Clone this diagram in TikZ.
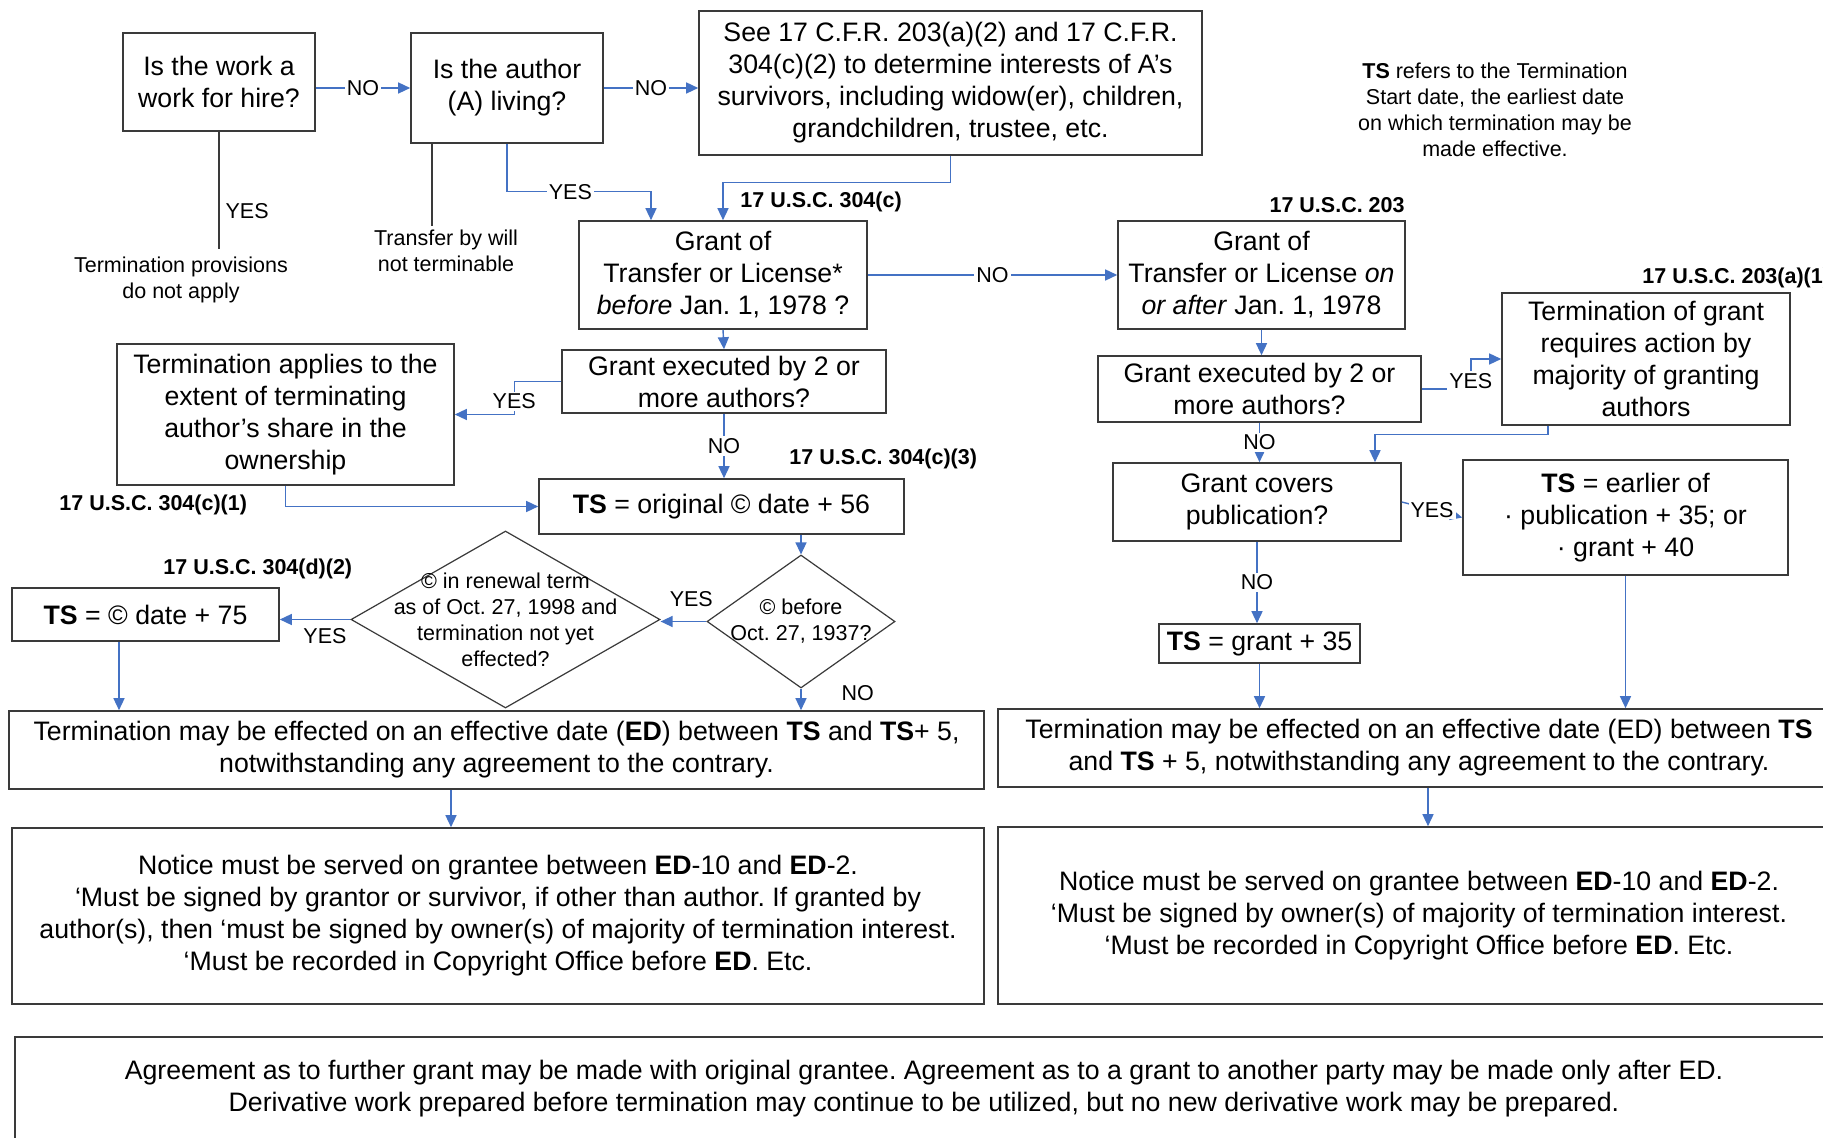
\documentclass[tikz,border=0pt]{standalone}
\usepackage{fontspec}
\setmainfont{Liberation Sans}
\usepackage{xcolor}
\usetikzlibrary{shapes.geometric, arrows.meta}
\definecolor{flowblue}{HTML}{4472C4}
\definecolor{boxline}{HTML}{3A3A3A}
\newcommand{\bxfont}{\fontsize{13.35}{16}\selectfont}
\newcommand{\lbfont}{\fontsize{10.75}{13}\selectfont}
\frenchspacing

\begin{document}
\begin{tikzpicture}[x=0.5pt, y=-0.5pt,
    box/.style={draw=boxline, line width=0.8pt, align=center, inner sep=0pt, font=\bxfont},
    dia/.style={diamond, draw=boxline, line width=0.6pt, align=center, inner xsep=-30pt, inner ysep=-15pt, font=\lbfont},
    conn/.style={draw=flowblue, line width=0.7pt},
    plain/.style={draw=boxline, line width=0.6pt},
    lbl/.style={fill=white, inner sep=1pt, font=\lbfont},
    cite/.style={font=\lbfont\bfseries, inner sep=0pt},
    note/.style={align=center, inner sep=0pt, font=\lbfont},
    >={Triangle[length=6pt, width=5.5pt]}]
    \clip (0, 0) rectangle (1823, 1138);
    \fill [white] (0, 0) rectangle (1823, 1138);

    % top row
    \node (hire) [box, minimum width=96pt, minimum height=49pt] at (219, 82) {Is the work a\\work for hire?};
    \node (living) [box, minimum width=96pt, minimum height=55pt] at (507, 88) {Is the author\\(A) living?};
    \node (cfr) [box, minimum width=251.5pt, minimum height=72pt] at (950.5, 83) {See 17 C.F.R. 203(a)(2) and 17 C.F.R.\\304(c)(2) to determine interests of A’s\\survivors, including widow(er), children,\\grandchildren, trustee, etc.};
    \node (tsnote) [note] at (1495, 110) {\textbf{TS} refers to the Termination\\Start date, the earliest date\\on which termination may be\\made effective.};
    \node (noapply) [note] at (181, 280) {Termination provisions\\do not apply};
    \node (will) [note] at (446, 251) {Transfer by will\\not terminable};

    % grants before / after 1978
    \node (before) [box, minimum width=144pt, minimum height=54pt] at (723, 275) {Grant of\\Transfer or License*\\\textit{before} Jan. 1, 1978 ?};
    \node (after) [box, minimum width=143.5pt, minimum height=54pt] at (1261.5, 275) {Grant of\\Transfer or License \textit{on}\\\textit{or after} Jan. 1, 1978};
    \node (execL) [box, minimum width=162pt, minimum height=31.5pt] at (724, 381.5) {Grant executed by 2 or\\more authors?};
    \node (execR) [box, minimum width=161.5pt, minimum height=33pt] at (1259.5, 389) {Grant executed by 2 or\\more authors?};
    \node (share) [box, minimum width=168.5pt, minimum height=70.5pt] at (285.5, 414.5) {Termination applies to the\\extent of terminating\\author’s share in the\\ownership};
    \node (majority) [box, minimum width=144pt, minimum height=66pt] at (1646, 359) {Termination of grant\\requires action by\\majority of granting\\authors};
    \node (covers) [box, minimum width=144pt, minimum height=39pt] at (1257, 502) {Grant covers\\publication?};
    \node (earlier) [box, minimum width=162.5pt, minimum height=57.5pt] at (1625.5, 517.5) {\textbf{TS} = earlier of\\· publication + 35; or\\· grant + 40};
    \node (ts56) [box, minimum width=182.5pt, minimum height=27.5pt] at (721.5, 506.5) {\textbf{TS} = original © date + 56};
    \node (grant35) [box, minimum width=100.5pt, minimum height=19.5pt] at (1259.5, 643.5) {\textbf{TS} = grant + 35};
    \node (before37) [dia, minimum width=94pt, minimum height=66.5pt] at (801, 621.5) {© before\\Oct. 27, 1937?};
    \node (renewal) [dia, minimum width=154.5pt, minimum height=88.5pt] at (505.5, 619.5) {© in renewal term\\as of Oct. 27, 1998 and\\termination not yet\\effected?};
    \node (ts75) [box, minimum width=133.5pt, minimum height=26.5pt] at (145.5, 614.5) {\textbf{TS} = © date + 75};

    % statute references
    \node (c304c) [cite, anchor=west] at (740, 202) {17 U.S.C. 304(c)};
    \node (c203) [cite, anchor=east] at (1405, 205) {17 U.S.C. 203};
    \node (c203a1) [cite, anchor=west] at (1642, 278) {17 U.S.C. 203(a)(1)};
    \node (c304c3) [cite, anchor=west] at (789, 459) {17 U.S.C. 304(c)(3)};
    \node (c304c1) [cite, anchor=west] at (59, 505) {17 U.S.C. 304(c)(1)};
    \node (c304d2) [cite, anchor=west] at (163, 569) {17 U.S.C. 304(d)(2)};

    % lower boxes
    \node (effL) [box, minimum width=487.5pt, minimum height=39pt] at (496.5, 750) {Termination may be effected on an effective date (\textbf{ED}) between \textbf{TS} and \textbf{TS}+ 5,\\notwithstanding any agreement to the contrary.};
    \node (effR) [box, minimum width=421pt, minimum height=39pt] at (1419, 748) {Termination may be effected on an effective date (ED) between \textbf{TS}\\and \textbf{TS} + 5, notwithstanding any agreement to the contrary.};
    \node (noticeL) [box, minimum width=486pt, minimum height=88pt] at (498, 916) {Notice must be served on grantee between \textbf{ED}-10 and \textbf{ED}-2.\\‘Must be signed by grantor or survivor, if other than author. If granted by\\author(s), then ‘must be signed by owner(s) of majority of termination interest.\\‘Must be recorded in Copyright Office before \textbf{ED}. Etc.};
    \node (noticeR) [box, minimum width=421pt, minimum height=88.5pt] at (1419, 915.5) {Notice must be served on grantee between \textbf{ED}-10 and \textbf{ED}-2.\\‘Must be signed by owner(s) of majority of termination interest.\\‘Must be recorded in Copyright Office before \textbf{ED}. Etc.};
    \node (agree) [box, minimum width=909pt, minimum height=52pt] at (924, 1089) {Agreement as to further grant may be made with original grantee. Agreement as to a grant to another party may be made only after ED.\\Derivative work prepared before termination may continue to be utilized, but no new derivative work may be prepared.};

    % connectors, top part
    \draw [conn, ->] (hire.east |- living.west) -- node [lbl] {NO} (living.west);
    \draw [conn, ->] (living.east) -- node [lbl] {NO} (living.east -| cfr.west);
    \draw [plain] (hire.south) -- node [pos=0.68, right=3pt, font=\lbfont, inner sep=0pt] {YES} ([yshift=4pt]hire.south |- noapply.north);
    \draw [plain] ([xshift=-37.5pt]living.south) -- ([xshift=-37.5pt, yshift=2pt]living.south |- will.north);
    \draw [conn, ->] (living.south) -- ++(0, 48) -| node [lbl, pos=0.22] {YES} ([xshift=-36pt]before.north);
    \draw [conn, ->] (cfr.south) -- ++(0, 27) -| (before.north);
    \draw [conn, ->] (before.east) -- node [lbl] {NO} (after.west);

    % left branch
    \draw [conn, ->] (before.south) -- (execL.north);
    \draw [conn, ->] (execL.west) -- ++(-47, 0) |- node [lbl, pos=0.3] {YES} (share.east);
    \draw [conn, ->] (execL.south) -- node [lbl] {NO} (execL.south |- ts56.north);
    \draw [conn, ->] (share.south) |- (ts56.west);
    \draw [conn, ->] (before37.north |- ts56.south) -- (before37.north);
    \draw [conn, ->] (before37.west) -- node [pos=0.33, above=7pt, font=\lbfont, inner sep=0pt] {YES} (before37.west -| renewal.east);
    \draw [conn, ->] (renewal.west) -- node [pos=0.36, below=4pt, font=\lbfont, inner sep=0pt] {YES} (renewal.west -| ts75.east);
    \draw [conn, ->] ([xshift=-13.25pt]ts75.south) -- ([xshift=-13.25pt]ts75.south |- effL.north);
    \draw [conn, ->] (before37.south) -- node [pos=0.2, right=20pt, font=\lbfont, inner sep=0pt] {NO} (before37.south |- effL.north);
    \draw [conn, ->] ([xshift=-22.75pt]effL.south) -- ([xshift=-22.75pt]effL.south |- noticeL.north);

    % right branch
    \draw [conn, ->] (after.south) -- (after.south |- execR.north);
    \draw [conn, ->] (execR.east) -- ++(49, 0) node [lbl, yshift=4pt] {YES} |- (majority.west);
    \draw [conn, ->] ([xshift=-49pt]majority.south) -- ++(0, 9) -| ([xshift=59pt]covers.north);
    \draw [conn, ->] (execR.south) -- node [lbl] {NO} (execR.south |- covers.north);
    \draw [conn, ->] (covers.east) -- node [lbl] {YES} (earlier.west);
    \draw [conn, ->] (covers.south) -- node [lbl] {NO} (covers.south |- grant35.north);
    \draw [conn, ->] (grant35.south) -- (grant35.south |- effR.north);
    \draw [conn, ->] (earlier.south) -- (earlier.south |- effR.north);
    \draw [conn, ->] ([xshift=4.5pt]effR.south) -- ([xshift=4.5pt]effR.south |- noticeR.north);
\end{tikzpicture}
\end{document}
